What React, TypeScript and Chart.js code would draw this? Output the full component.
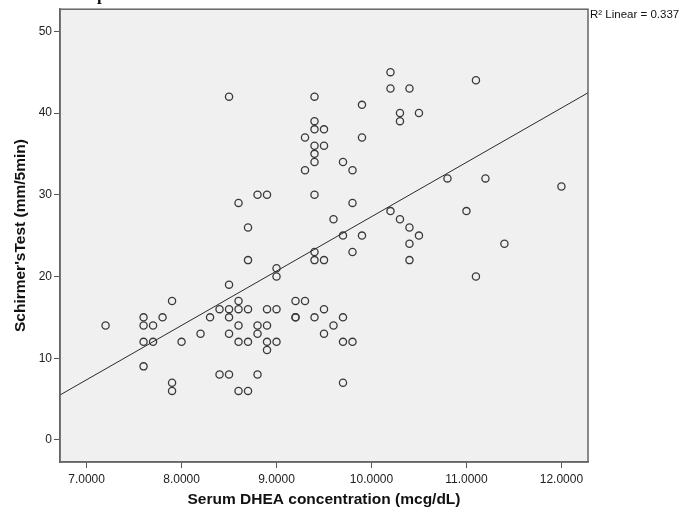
import React, { useEffect, useRef } from "react";
import { Chart, registerables } from "chart.js";

Chart.register(...registerables);

// Serum DHEA concentration (mcg/dL)
const dheaValues = [
  7.2, 7.6, 7.6, 7.6, 7.6, 7.7, 7.7, 7.8, 7.9, 7.9,
  7.9, 8.0, 8.2, 8.3, 8.4, 8.4, 8.5, 8.5, 8.5, 8.5,
  8.5, 8.5, 8.6, 8.6, 8.6, 8.6, 8.6, 8.6, 8.7, 8.7,
  8.7, 8.7, 8.7, 8.8, 8.8, 8.8, 8.8, 8.9, 8.9, 8.9,
  8.9, 8.9, 9.0, 9.0, 9.0, 9.0, 9.2, 9.2, 9.2, 9.3,
  9.3, 9.3, 9.4, 9.4, 9.4, 9.4, 9.4, 9.4, 9.4, 9.4,
  9.4, 9.4, 9.5, 9.5, 9.5, 9.5, 9.5, 9.6, 9.6, 9.7,
  9.7, 9.7, 9.7, 9.7, 9.8, 9.8, 9.8, 9.8, 9.9, 9.9,
  9.9, 10.2, 10.2, 10.2, 10.3, 10.3, 10.3, 10.4, 10.4, 10.4,
  10.4, 10.5, 10.5, 10.8, 11.0, 11.1, 11.1, 11.2, 11.4, 12.0,
];

// Schirmer's Test (mm/5min)
const schirmerValues = [
  14, 15, 14, 12, 9, 14, 12, 15, 17, 7,
  6, 12, 13, 15, 16, 8, 42, 19, 16, 15,
  13, 8, 29, 17, 16, 14, 12, 6, 26, 22,
  16, 12, 6, 30, 14, 13, 8, 30, 16, 14,
  12, 11, 21, 20, 16, 12, 17, 15, 15, 37,
  33, 17, 42, 39, 38, 36, 35, 34, 30, 23,
  22, 15, 38, 36, 22, 16, 13, 27, 14, 34,
  25, 15, 12, 7, 33, 29, 23, 12, 41, 37,
  25, 45, 43, 28, 40, 39, 27, 43, 26, 24,
  22, 40, 25, 32, 28, 44, 20, 32, 24, 31,
];

const xTickValues = [7, 8, 9, 10, 11, 12];
const yTickValues = [0, 10, 20, 30, 40, 50];
const xAxisRange = [6.72, 12.28];
const yAxisRange = [-2.7, 52.7];
const xAxisTitle = "Serum DHEA concentration (mcg/dL)";
const yAxisTitle = "Schirmer'sTest (mm/5min)";
const fitLabel = "R\u00B2 Linear = 0.337";
const captionFragment = "p";

function linearFit(xs: number[], ys: number[]) {
  const n = xs.length;
  const mx = xs.reduce((a, b) => a + b, 0) / n;
  const my = ys.reduce((a, b) => a + b, 0) / n;
  let sxy = 0;
  let sxx = 0;
  for (let i = 0; i < n; i++) {
    sxy += (xs[i] - mx) * (ys[i] - my);
    sxx += (xs[i] - mx) * (xs[i] - mx);
  }
  const slope = sxy / sxx;
  return { slope, intercept: my - slope * mx };
}

const FONT = "'Liberation Sans', Arial, sans-serif";

export default function App() {
  const canvasRef = useRef<HTMLCanvasElement | null>(null);

  useEffect(() => {
    const canvas = canvasRef.current;
    if (!canvas) return;

    const points = dheaValues.map((x, i) => ({ x, y: schirmerValues[i] }));
    const fit = linearFit(dheaValues, schirmerValues);
    const fitLine = xAxisRange.map((x) => ({ x, y: fit.intercept + fit.slope * x }));

    const framePlugin = {
      id: "spssFrame",
      beforeDraw(chart: any) {
        const { ctx, chartArea: a } = chart;
        ctx.save();
        ctx.fillStyle = "#f0f0f0";
        ctx.fillRect(a.left, a.top, a.right - a.left, a.bottom - a.top);
        ctx.restore();
      },
      afterDraw(chart: any) {
        const { ctx, chartArea: a } = chart;
        ctx.save();
        ctx.strokeStyle = "#666666";
        ctx.lineWidth = 1.5;
        ctx.strokeRect(a.left, a.top, a.right - a.left, a.bottom - a.top);
        ctx.fillStyle = "#111111";
        ctx.font = `11.5px ${FONT}`;
        ctx.textBaseline = "middle";
        ctx.textAlign = "left";
        ctx.fillText(fitLabel, a.right + 2, 15);
        ctx.font = "bold 17px 'Liberation Serif', serif";
        ctx.textBaseline = "alphabetic";
        ctx.fillText(captionFragment, 97, 0);
        ctx.restore();
      },
    };

    const chart = new Chart(canvas, {
      type: "scatter",
      data: {
        datasets: [
          {
            data: fitLine,
            showLine: true,
            borderColor: "#2a2a2a",
            borderWidth: 1,
            pointRadius: 0,
            fill: false,
          },
          {
            data: points,
            showLine: false,
            pointRadius: 3.6,
            pointBorderWidth: 1.3,
            pointBorderColor: "#3a3a3a",
            pointBackgroundColor: "rgba(0,0,0,0)",
          },
        ],
      },
      options: {
        animation: false,
        responsive: false,
        devicePixelRatio: 1,
        layout: { padding: { left: 0, top: 8, right: 94, bottom: 0 } },
        plugins: {
          legend: { display: false },
          tooltip: { enabled: false },
        },
        scales: {
          x: {
            type: "linear",
            min: xAxisRange[0],
            max: xAxisRange[1],
            afterBuildTicks: (s: any) => {
              s.ticks = xTickValues.map((value) => ({ value }));
            },
            afterFit: (s: any) => {
              s.height = 50;
            },
            ticks: {
              callback: (v: any) => Number(v).toFixed(4),
              font: { family: FONT, size: 12 },
              color: "#222222",
              padding: 4,
              maxRotation: 0,
            },
            grid: {
              drawOnChartArea: false,
              drawTicks: true,
              tickLength: 6,
              color: "#555555",
              lineWidth: 1,
            },
            border: { display: true, color: "#666666", width: 1.5 },
            title: {
              display: true,
              text: xAxisTitle,
              font: { family: FONT, size: 15.5, weight: "bold" },
              color: "#111111",
              padding: { top: 0, bottom: 3 },
            },
          },
          y: {
            type: "linear",
            min: yAxisRange[0],
            max: yAxisRange[1],
            afterBuildTicks: (s: any) => {
              s.ticks = yTickValues.map((value) => ({ value }));
            },
            afterFit: (s: any) => {
              s.width = 60;
            },
            ticks: {
              callback: (v: any) => String(v),
              font: { family: FONT, size: 12 },
              color: "#222222",
              padding: 2,
            },
            grid: {
              drawOnChartArea: false,
              drawTicks: true,
              tickLength: 6,
              color: "#555555",
              lineWidth: 1,
            },
            border: { display: true, color: "#666666", width: 1.5 },
            title: {
              display: true,
              text: yAxisTitle,
              font: { family: FONT, size: 15.5, weight: "bold" },
              color: "#111111",
              padding: { top: 11, bottom: 0 },
            },
          },
        },
      },
      plugins: [framePlugin],
    });

    return () => chart.destroy();
  }, []);

  return (
    <div style={{ position: "fixed", left: 0, top: 0, width: 682, height: 512, background: "#ffffff" }}>
      <canvas ref={canvasRef} width={682} height={512} style={{ display: "block" }} />
    </div>
  );
}
